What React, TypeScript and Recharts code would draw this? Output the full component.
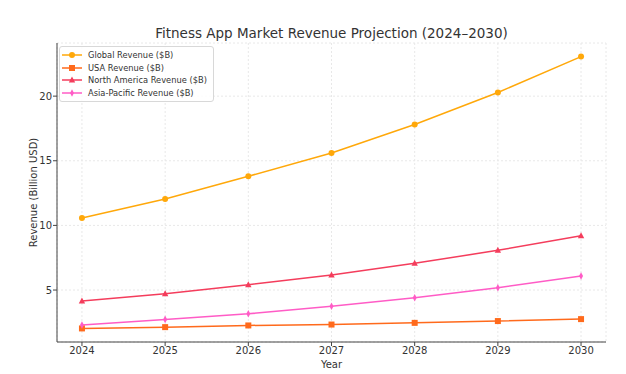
import { LineChart, Line, XAxis, YAxis, CartesianGrid, Label } from "recharts";

const years = [2024, 2025, 2026, 2027, 2028, 2029, 2030];
const globalRevenue = [10.57, 12.05, 13.8, 15.6, 17.8, 20.28, 23.06];
const usaRevenue = [2.03, 2.13, 2.26, 2.33, 2.46, 2.6, 2.75];
const northAmericaRevenue = [4.15, 4.71, 5.41, 6.16, 7.07, 8.07, 9.2];
const asiaPacificRevenue = [2.29, 2.73, 3.16, 3.74, 4.4, 5.18, 6.08];
const yTicks = [5, 10, 15, 20];

type Marker = "circle" | "square" | "triangle" | "thinDiamond";

const series: { key: string; name: string; color: string; marker: Marker }[] = [
  { key: "global", name: "Global Revenue ($B)", color: "#ffa80a", marker: "circle" },
  { key: "usa", name: "USA Revenue ($B)", color: "#ff6a1c", marker: "square" },
  { key: "na", name: "North America Revenue ($B)", color: "#f43d5c", marker: "triangle" },
  { key: "apac", name: "Asia-Pacific Revenue ($B)", color: "#ff5cc6", marker: "thinDiamond" },
];

const data = years.map((year, i) => ({
  year,
  global: globalRevenue[i],
  usa: usaRevenue[i],
  na: northAmericaRevenue[i],
  apac: asiaPacificRevenue[i],
}));

const FONT = "DejaVu Sans, sans-serif";

function drawMarker(marker: Marker, cx: number, cy: number, color: string, key?: string) {
  switch (marker) {
    case "circle":
      return <circle key={key} cx={cx} cy={cy} r={3} fill={color} />;
    case "square":
      return <rect key={key} x={cx - 3} y={cy - 3} width={6} height={6} fill={color} />;
    case "triangle":
      return (
        <polygon
          key={key}
          points={`${cx},${cy - 3.5} ${cx - 3.2},${cy + 2.5} ${cx + 3.2},${cy + 2.5}`}
          fill={color}
        />
      );
    default:
      return (
        <polygon
          key={key}
          points={`${cx},${cy - 3.8} ${cx + 2},${cy} ${cx},${cy + 3.8} ${cx - 2},${cy}`}
          fill={color}
        />
      );
  }
}

function makeDot(marker: Marker, color: string) {
  return (props: any) => {
    const { cx, cy, index } = props;
    if (cx == null || cy == null) return <g key={`d-${index}`} />;
    return drawMarker(marker, cx, cy, color, `d-${index}`);
  };
}

// legend drawn as an overlay so it doesn't take layout space from the plot
function LegendBox() {
  return (
    <div
      style={{
        position: "absolute",
        left: 59,
        top: 46,
        background: "rgba(255,255,255,0.85)",
        border: "1px solid #d8d8d8",
        borderRadius: 3,
        padding: "2px 6px 2px 2px",
        fontFamily: FONT,
        fontSize: 8.3,
        color: "#333",
      }}
    >
      {series.map((s) => (
        <div key={s.key} style={{ display: "flex", alignItems: "center", height: 12.6 }}>
          <svg width={20} height={10} style={{ marginRight: 6 }}>
            <line x1={0} y1={5} x2={20} y2={5} stroke={s.color} strokeWidth={1.5} />
            {drawMarker(s.marker, 10, 5, s.color)}
          </svg>
          <span>{s.name}</span>
        </div>
      ))}
    </div>
  );
}

export default function App() {
  return (
    <div style={{ position: "absolute", left: 0, top: 0, width: 626, height: 374, background: "#fff" }}>
      <div
        style={{
          position: "absolute",
          left: 57,
          width: 549,
          top: 24,
          textAlign: "center",
          fontFamily: FONT,
          fontSize: 13.5,
          color: "#333",
          lineHeight: "18px",
        }}
      >
        Fitness App Market Revenue Projection (2024–2030)
      </div>
      <LineChart
        width={626}
        height={374}
        data={data}
        margin={{ top: 43, right: 20, bottom: 0, left: 0 }}
      >
        <CartesianGrid stroke="#e8e8e8" strokeDasharray="2 2" />
        <XAxis
          dataKey="year"
          type="number"
          domain={[2023.7, 2030.3]}
          ticks={years}
          height={32}
          tickSize={4}
          tickMargin={1}
          stroke="#444"
          tick={{ fill: "#333", fontSize: 10, fontFamily: FONT }}
          allowDataOverflow
        >
          <Label value="Year" position="insideBottom" offset={6} style={{ fill: "#333", fontSize: 10, fontFamily: FONT }} />
        </XAxis>
        <YAxis
          type="number"
          domain={[0.98, 24.11]}
          ticks={yTicks}
          width={57}
          tickSize={4}
          tickMargin={1}
          stroke="#444"
          tick={{ fill: "#333", fontSize: 10, fontFamily: FONT }}
          allowDataOverflow
        >
          <Label
            value="Revenue (Billion USD)"
            angle={-90}
            position="insideLeft"
            offset={33}
            style={{ fill: "#333", fontSize: 10, fontFamily: FONT, textAnchor: "middle" }}
          />
        </YAxis>
        {series.map((s) => (
          <Line
            key={s.key}
            type="linear"
            dataKey={s.key}
            name={s.name}
            stroke={s.color}
            strokeWidth={1.5}
            dot={makeDot(s.marker, s.color)}
            activeDot={false}
            isAnimationActive={false}
          />
        ))}
      </LineChart>
      <LegendBox />
    </div>
  );
}
